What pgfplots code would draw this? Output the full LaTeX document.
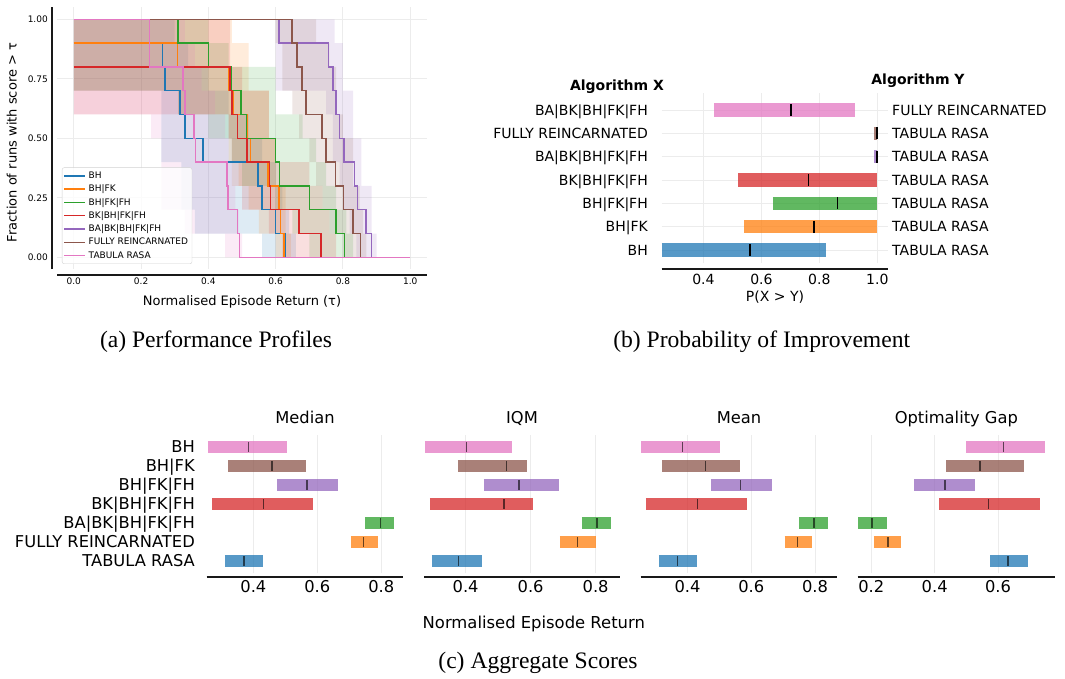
\documentclass[border=0pt]{standalone}
\usepackage{fontspec}
\setmainfont{DejaVu Sans}
\newfontfamily\capfont{Liberation Serif}
\usepackage{pgfplots}
\pgfplotsset{compat=1.18}
\usepgfplotslibrary{fillbetween}

\definecolor{tabblue}{HTML}{1F77B4}
\definecolor{taborange}{HTML}{FF7F0E}
\definecolor{tabgreen}{HTML}{2CA02C}
\definecolor{tabred}{HTML}{D62728}
\definecolor{tabpurple}{HTML}{9467BD}
\definecolor{tabbrown}{HTML}{8C564B}
\definecolor{tabpink}{HTML}{E377C2}

\newcommand\fs[1]{\fontsize{#1}{#1}\selectfont}

% interval bar + point estimate, probability of improvement panel
\newcommand\pibar[5]{%
  \addplot[draw=#1, draw opacity=0.75, line width=13.3pt, forget plot] coordinates {(#3,#2) (#4,#2)};
  \addplot[only marks, mark=|, mark size=6pt, mark options={draw=black, line width=1.6pt}, forget plot] coordinates {(#5,#2)};
}
% interval bar + point estimate, aggregate panels
\newcommand\agbar[5]{%
  \addplot[draw=#1, draw opacity=0.75, line width=12pt, forget plot] coordinates {(#3,#2) (#4,#2)};
  \addplot[only marks, mark=|, mark size=5pt, mark options={draw=black, draw opacity=0.6, line width=1.3pt}, forget plot] coordinates {(#5,#2)};
}
% confidence band of a performance profile
\newcommand\band[1]{\addplot[fill=#1, fill opacity=0.15, draw=none, forget plot]}

\tikzset{spine/.style={line width=1.8pt, black!90}}
\pgfplotsset{
  base/.style={scale only axis, clip=false, anchor=south west,
    axis line style={draw=none}, major tick length=0pt,
    /pgf/number format/assume math mode=true,
    major grid style={draw=gray!15, line width=0.9pt}},
  agg/.style={base, width=196.6pt, height=138.8pt, ymin=-0.65, ymax=6.65,
    xmajorgrids=true, ymajorgrids=false, ytick=\empty,
    xticklabel style={font=\fs{16.3}, anchor=base, inner sep=0pt, yshift=-19.3pt},
    yticklabel style={font=\fs{16.3}, anchor=base east, inner sep=0pt, xshift=-11.7pt, yshift=-5.9pt},
    title style={font=\fs{16.3}, at={(0.5,1)}, anchor=base, yshift=5.6pt}},
  prof/.style={draw=#1, line width=1.5pt, const plot},
}

\begin{document}
\begin{tikzpicture}

% ---------------- (a) performance profiles ----------------
\begin{axis}[base, at={(57pt,-269.2pt)}, width=370pt, height=261.8pt,
  xmin=-0.05, xmax=1.05, ymin=-0.05, ymax=1.05, grid=major,
  xtick={0,0.2,0.4,0.6,0.8,1}, xticklabels={0.0,0.2,0.4,0.6,0.8,1.0},
  ytick={0,0.25,0.5,0.75,1}, yticklabels={0.00,0.25,0.50,0.75,1.00},
  xticklabel style={font=\fs{9}, anchor=base, inner sep=0pt, yshift=-15.3pt},
  yticklabel style={font=\fs{9}, anchor=base east, inner sep=0pt, xshift=-9pt, yshift=-3.3pt},
  xlabel={Normalised Episode Return (τ)}, ylabel={Fraction of runs with score > τ},
  xlabel style={font=\fs{13}, at={(axis description cs:0.5,0)}, anchor=base, yshift=-36pt},
  ylabel style={font=\fs{13}, at={(axis description cs:-0.1224,0.484)}, anchor=center},
  legend style={at={(0.0135,0.02)}, anchor=south west, draw=gray!35, rounded corners=2pt,
    fill=white, fill opacity=0.8, text opacity=1, font=\fs{9}, inner sep=1.5pt,
    nodes={inner sep=2.5pt, text height=6.8pt, text depth=1.5pt}},
  legend cell align=left,
  legend image code/.code={\path (0pt,0pt) -- (21pt,0pt); \draw[#1] (0pt,0pt) -- (19pt,0pt);},
]
% bands
\addplot[name path=bhU, draw=none, const plot, forget plot] coordinates {(0,1.0)(0.30,0.9)(0.34,0.8)(0.40,0.7)(0.46,0.6)(0.52,0.5)(0.56,0.4)(0.60,0.3)(0.62,0.2)(0.64,0.1)(0.66,0.0)(1,0)};
\addplot[name path=bhL, draw=none, const plot, forget plot] coordinates {(0,0.7)(0.26,0.4)(0.32,0.2)(0.36,0.1)(0.56,0.0)(1,0)};
\band{tabblue} fill between[of=bhU and bhL];
\addplot[name path=fkU, draw=none, const plot, forget plot] coordinates {(0,1.0)(0.47,0.9)(0.52,0.7)(0.58,0.5)(0.60,0.3)(0.63,0.1)(0.645,0.0)(1,0)};
\addplot[name path=fkL, draw=none, const plot, forget plot] coordinates {(0,0.7)(0.31,0.6)(0.46,0.4)(0.49,0.3)(0.52,0.2)(0.55,0.1)(0.60,0.0)(1,0)};
\band{taborange} fill between[of=fkU and fkL];
\addplot[name path=fhU, draw=none, const plot, forget plot] coordinates {(0,1.0)(0.40,0.9)(0.46,0.8)(0.60,0.6)(0.68,0.5)(0.72,0.4)(0.75,0.3)(0.78,0.2)(0.81,0.1)(0.83,0.0)(1,0)};
\addplot[name path=fhL, draw=none, const plot, forget plot] coordinates {(0,0.7)(0.31,0.6)(0.40,0.5)(0.47,0.4)(0.50,0.3)(0.60,0.2)(0.65,0.1)(0.70,0.0)(1,0)};
\band{tabgreen} fill between[of=fhU and fhL];
\addplot[name path=bkU, draw=none, const plot, forget plot] coordinates {(0,1.0)(0.465,0.8)(0.50,0.7)(0.58,0.5)(0.60,0.4)(0.70,0.3)(0.74,0.2)(0.76,0.1)(0.78,0.0)(1,0)};
\addplot[name path=bkL, draw=none, const plot, forget plot] coordinates {(0,0.6)(0.46,0.5)(0.47,0.3)(0.50,0.2)(0.58,0.1)(0.62,0.0)(1,0)};
\band{tabred} fill between[of=bkU and bkL];
\addplot[name path=baU, draw=none, const plot, forget plot] coordinates {(0,1.0)(0.775,0.9)(0.80,0.7)(0.83,0.5)(0.855,0.3)(0.885,0.1)(0.90,0.0)(1,0)};
\addplot[name path=baL, draw=none, const plot, forget plot] coordinates {(0,1.0)(0.60,0.7)(0.75,0.6)(0.77,0.4)(0.79,0.3)(0.80,0.2)(0.82,0.1)(0.84,0.0)(1,0)};
\band{tabpurple} fill between[of=baU and baL];
\addplot[name path=frU, draw=none, const plot, forget plot] coordinates {(0,1.0)(0.72,0.9)(0.76,0.8)(0.78,0.6)(0.80,0.5)(0.83,0.3)(0.85,0.2)(0.86,0.1)(0.87,0.0)(1,0)};
\addplot[name path=frL, draw=none, const plot, forget plot] coordinates {(0,1.0)(0.60,0.9)(0.62,0.7)(0.65,0.6)(0.67,0.5)(0.70,0.4)(0.72,0.3)(0.74,0.2)(0.76,0.1)(0.80,0.0)(1,0)};
\band{tabbrown} fill between[of=frU and frL];
\addplot[name path=trU, draw=none, const plot, forget plot] coordinates {(0,1.0)(0.33,0.9)(0.36,0.8)(0.38,0.7)(0.42,0.6)(0.45,0.5)(0.46,0.4)(0.47,0.3)(0.48,0.2)(0.49,0.1)(0.50,0.0)(1,0)};
\addplot[name path=trL, draw=none, const plot, forget plot] coordinates {(0,0.6)(0.23,0.5)(0.26,0.2)(0.33,0.1)(0.45,0.0)(1,0)};
\band{tabpink} fill between[of=trU and trL];
% profiles
\addplot[prof=tabblue] coordinates {(0,0.9)(0.263,0.8)(0.271,0.7)(0.315,0.6)(0.33,0.5)(0.384,0.4)(0.548,0.3)(0.56,0.2)(0.6,0.1)(0.63,0.0)(1,0)};
\addlegendentry{BH}
\addplot[prof=taborange] coordinates {(0,0.9)(0.308,0.8)(0.46,0.7)(0.475,0.6)(0.515,0.5)(0.525,0.4)(0.578,0.3)(0.61,0.2)(0.615,0.1)(0.625,0.0)(1,0)};
\addlegendentry{BH|FK}
\addplot[prof=tabgreen] coordinates {(0,1)(0.31,0.9)(0.40,0.8)(0.469,0.7)(0.497,0.6)(0.514,0.5)(0.60,0.4)(0.612,0.3)(0.70,0.2)(0.78,0.1)(0.804,0.0)(1,0)};
\addlegendentry{BH|FK|FH}
\addplot[prof=tabred] coordinates {(0,0.8)(0.464,0.7)(0.47,0.6)(0.487,0.5)(0.515,0.4)(0.582,0.3)(0.585,0.2)(0.67,0.1)(0.735,0.0)(1,0)};
\addlegendentry{BK|BH|FK|FH}
\addplot[prof=tabpurple] coordinates {(0,1)(0.61,0.9)(0.757,0.8)(0.77,0.7)(0.78,0.6)(0.79,0.5)(0.803,0.4)(0.835,0.3)(0.843,0.2)(0.868,0.1)(0.885,0.0)(1,0)};
\addlegendentry{BA|BK|BH|FK|FH}
\addplot[prof=tabbrown] coordinates {(0,1)(0.648,0.9)(0.664,0.8)(0.678,0.7)(0.69,0.6)(0.738,0.5)(0.75,0.4)(0.778,0.3)(0.802,0.2)(0.83,0.1)(0.852,0.0)(1,0)};
\addlegendentry{FULLY REINCARNATED}
\addplot[prof=tabpink] coordinates {(0,1)(0.225,0.8)(0.325,0.7)(0.33,0.6)(0.357,0.5)(0.362,0.4)(0.455,0.3)(0.458,0.2)(0.487,0.1)(0.493,0.0)(1,0)};
\addlegendentry{TABULA RASA}
\draw[spine, line width=1.6pt] ([xshift=-5pt]rel axis cs:0,0) -- ([xshift=-5pt]rel axis cs:0,1);
\draw[spine, line width=1.6pt] ([yshift=-5.8pt]rel axis cs:0,0) -- ([yshift=-5.8pt]rel axis cs:1,0);
\end{axis}

% ---------------- (b) probability of improvement ----------------
\begin{axis}[base, at={(661.7pt,-263.3pt)}, width=226.6pt, height=170.3pt,
  xmin=0.256, xmax=1.038, ymin=-0.57, ymax=6.73, grid=major,
  xtick={0.4,0.6,0.8,1}, xticklabels={0.4,0.6,0.8,1.0},
  ytick={0,1,2,3,4,5,6},
  yticklabels={BH,BH|FK,BH|FK|FH,BK|BH|FK|FH,BA|BK|BH|FK|FH,FULLY REINCARNATED,BA|BK|BH|FK|FH},
  xticklabel style={font=\fs{14}, anchor=base, inner sep=0pt, yshift=-21pt},
  yticklabel style={font=\fs{14}, anchor=base east, inner sep=0pt, xshift=-13.7pt, yshift=-5.1pt},
  xlabel={P(X > Y)},
  xlabel style={font=\fs{14}, at={(axis description cs:0.5,0)}, anchor=base, yshift=-37.7pt},
]
\pibar{tabblue}{0}{0.256}{0.823}{0.560}
\pibar{taborange}{1}{0.540}{1.0}{0.782}
\pibar{tabgreen}{2}{0.640}{1.0}{0.862}
\pibar{tabred}{3}{0.520}{1.0}{0.762}
\pibar{tabpurple}{4}{0.989}{1.0}{0.998}
\pibar{tabbrown}{5}{0.988}{1.0}{0.998}
\pibar{tabpink}{6}{0.437}{0.923}{0.702}
\draw[spine] ([yshift=-5.7pt]rel axis cs:0,0) -- ([yshift=-5.7pt]rel axis cs:1,0);
\end{axis}
\begin{axis}[base, at={(661.7pt,-263.3pt)}, width=226.6pt, height=170.3pt,
  xmin=0.256, xmax=1.038, ymin=-0.57, ymax=6.73, xtick=\empty,
  ytick={0,1,2,3,4,5,6}, yticklabel pos=right,
  yticklabels={TABULA RASA,TABULA RASA,TABULA RASA,TABULA RASA,TABULA RASA,TABULA RASA,FULLY REINCARNATED},
  yticklabel style={font=\fs{14}, anchor=base west, inner sep=0pt, xshift=3.7pt, yshift=-5.1pt},
]
\end{axis}
\node[font=\bfseries\fs{14}, anchor=base] at (617pt,-91pt) {Algorithm X};
\node[font=\bfseries\fs{14}, anchor=base] at (918pt,-85pt) {Algorithm Y};

% ---------------- (c) aggregate scores ----------------
\begin{axis}[agg, at={(206.7pt,-573.4pt)}, xmin=0.254, xmax=0.869,
  xtick={0.4,0.6,0.8}, ytick={0,1,2,3,4,5,6},
  yticklabels={TABULA RASA,FULLY REINCARNATED,BA|BK|BH|FK|FH,BK|BH|FK|FH,BH|FK|FH,BH|FK,BH},
  title={Median}]
\agbar{tabblue}{0}{0.311}{0.430}{0.371}
\agbar{taborange}{1}{0.705}{0.790}{0.745}
\agbar{tabgreen}{2}{0.749}{0.840}{0.797}
\agbar{tabred}{3}{0.271}{0.586}{0.432}
\agbar{tabpurple}{4}{0.474}{0.665}{0.568}
\agbar{tabbrown}{5}{0.321}{0.565}{0.458}
\agbar{tabpink}{6}{0.258}{0.505}{0.385}
\draw[spine] ([yshift=-3.6pt]rel axis cs:0,0) -- ([yshift=-3.6pt]rel axis cs:1,0);
\end{axis}
\begin{axis}[agg, at={(424pt,-573.4pt)}, width=196pt, xmin=0.272, xmax=0.875,
  xtick={0.4,0.6,0.8}, title={IQM}]
\agbar{tabblue}{0}{0.296}{0.450}{0.379}
\agbar{taborange}{1}{0.690}{0.801}{0.744}
\agbar{tabgreen}{2}{0.758}{0.847}{0.804}
\agbar{tabred}{3}{0.290}{0.607}{0.518}
\agbar{tabpurple}{4}{0.456}{0.687}{0.564}
\agbar{tabbrown}{5}{0.376}{0.589}{0.526}
\agbar{tabpink}{6}{0.275}{0.543}{0.403}
\draw[spine] ([yshift=-3.6pt]rel axis cs:0,0) -- ([yshift=-3.6pt]rel axis cs:1,0);
\end{axis}
\begin{axis}[agg, at={(640.7pt,-573.4pt)}, xmin=0.253, xmax=0.870,
  xtick={0.4,0.6,0.8}, title={Mean}]
\agbar{tabblue}{0}{0.310}{0.429}{0.369}
\agbar{taborange}{1}{0.705}{0.790}{0.746}
\agbar{tabgreen}{2}{0.749}{0.840}{0.797}
\agbar{tabred}{3}{0.269}{0.586}{0.431}
\agbar{tabpurple}{4}{0.473}{0.664}{0.567}
\agbar{tabbrown}{5}{0.320}{0.564}{0.457}
\agbar{tabpink}{6}{0.254}{0.501}{0.384}
\draw[spine] ([yshift=-3.6pt]rel axis cs:0,0) -- ([yshift=-3.6pt]rel axis cs:1,0);
\end{axis}
\begin{axis}[agg, at={(857.7pt,-573.4pt)}, width=197.3pt, xmin=0.157, xmax=0.780,
  xtick={0.2,0.4,0.6}, title={Optimality Gap}]
\agbar{tabblue}{0}{0.575}{0.695}{0.632}
\agbar{taborange}{1}{0.208}{0.294}{0.253}
\agbar{tabgreen}{2}{0.158}{0.249}{0.202}
\agbar{tabred}{3}{0.414}{0.733}{0.571}
\agbar{tabpurple}{4}{0.335}{0.527}{0.433}
\agbar{tabbrown}{5}{0.436}{0.682}{0.543}
\agbar{tabpink}{6}{0.499}{0.748}{0.618}
\draw[spine] ([yshift=-3.6pt]rel axis cs:0,0) -- ([yshift=-3.6pt]rel axis cs:1,0);
\end{axis}
\node[font=\fs{16.4}, anchor=base] at (533.8pt,-628pt) {Normalised Episode Return};

% ---------------- captions ----------------
\node[font=\capfont\fs{23.6}, anchor=base] at (216pt,-347.3pt) {(a) Performance Profiles};
\node[font=\capfont\fs{23.6}, anchor=base] at (761.7pt,-347.3pt) {(b) Probability of Improvement};
\node[font=\capfont\fs{23.6}, anchor=base] at (538pt,-668.5pt) {(c) Aggregate Scores};

\pgfresetboundingbox
\useasboundingbox (0,0) rectangle (1065pt,-679pt);
\end{tikzpicture}
\end{document}
